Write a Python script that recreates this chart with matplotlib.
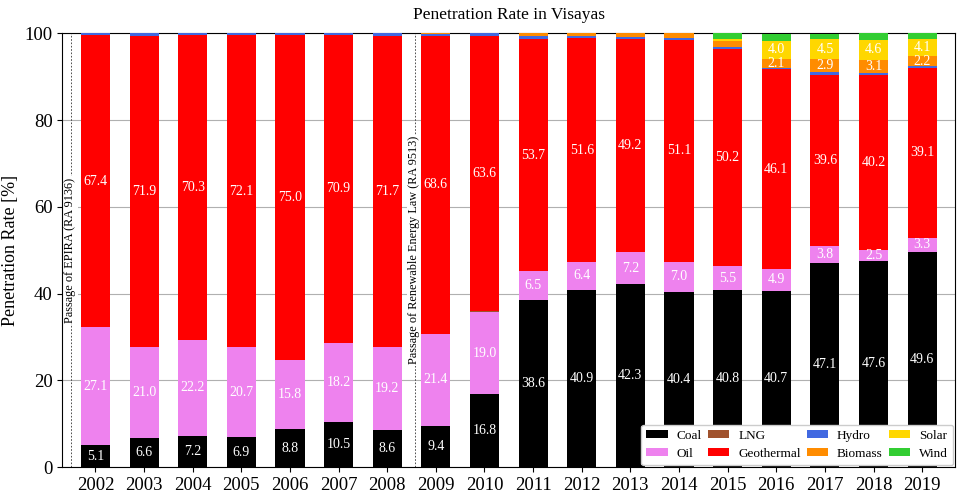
import matplotlib
matplotlib.use("Agg")
import matplotlib.pyplot as plt
import numpy as np

years = list(range(2002, 2020))
coal = [5.1, 6.6, 7.2, 6.9, 8.8, 10.5, 8.6, 9.4, 16.8, 38.6, 40.9, 42.3, 40.4, 40.8, 40.7, 47.1, 47.6, 49.6]
oil = [27.1, 21.0, 22.2, 20.7, 15.8, 18.2, 19.2, 21.4, 19.0, 6.5, 6.4, 7.2, 7.0, 5.5, 4.9, 3.8, 2.5, 3.3]
lng = [0.0, 0.0, 0.0, 0.0, 0.0, 0.0, 0.0, 0.0, 0.1, 0.0, 0.0, 0.0, 0.0, 0.0, 0.0, 0.0, 0.0, 0.0]
geothermal = [67.4, 71.9, 70.3, 72.1, 75.0, 70.9, 71.7, 68.6, 63.6, 53.7, 51.6, 49.2, 51.1, 50.2, 46.1, 39.6, 40.2, 39.1]
hydro = [0.4, 0.5, 0.3, 0.3, 0.4, 0.4, 0.5, 0.5, 0.5, 0.5, 0.4, 0.5, 0.5, 0.3, 0.4, 0.7, 0.5, 0.5]
biomass = [0.0, 0.0, 0.0, 0.0, 0.0, 0.0, 0.0, 0.1, 0.0, 0.7, 0.7, 0.9, 1.0, 1.4, 2.1, 2.9, 3.1, 2.2]
solar = [0.0, 0.0, 0.0, 0.0, 0.0, 0.0, 0.0, 0.0, 0.0, 0.0, 0.0, 0.0, 0.0, 0.4, 4.0, 4.5, 4.6, 4.1]
wind = [0.0, 0.0, 0.0, 0.0, 0.0, 0.0, 0.0, 0.0, 0.0, 0.0, 0.0, 0.0, 0.0, 1.4, 1.7, 1.3, 1.5, 1.2]

series = [("Coal", coal, "black"), ("Oil", oil, "violet"), ("LNG", lng, "sienna"),
          ("Geothermal", geothermal, "red"), ("Hydro", hydro, "royalblue"),
          ("Biomass", biomass, "darkorange"), ("Solar", solar, "gold"), ("Wind", wind, "limegreen")]

events = [(2001.5, "Passage of EPIRA (RA 9136)"), (2008.57, "Passage of Renewable Energy Law (RA 9513)")]

plt.rcParams['font.family'] = ['Liberation Serif', 'DejaVu Serif']

fig = plt.figure(figsize=(9.6, 4.98), dpi=100)
ax = fig.add_axes([0.065, 0.062, 0.93, 0.871])

x = np.array(years, dtype=float)
bottom = np.zeros(len(years))
for name, vals, color in series:
    v = np.array(vals)
    ax.bar(x, v, width=0.6, bottom=bottom, color=color, label=name, zorder=3)
    for xi, b, vi in zip(x, bottom, v):
        if vi >= 2.0:
            ax.text(xi, b + vi / 2, f"{vi:.1f}", ha="center", va="center",
                    color="white", fontsize=10, zorder=4)
    bottom += v

for xe, label in events:
    ax.axvline(xe, color="#333333", linestyle=(0, (2, 2)), linewidth=0.6, zorder=2)
    ax.text(xe - 0.02, 50, label, rotation=90, ha="center", va="center", fontsize=8.8,
            zorder=2.5, bbox=dict(facecolor="white", edgecolor="none", pad=1.0))

ax.set_xlim(2001.32, 2019.68)
ax.set_ylim(0, 100)
ax.set_xticks(years)
ax.set_xticklabels([str(y) for y in years], fontsize=13.5)
ax.set_yticks([0, 20, 40, 60, 80, 100])
ax.tick_params(axis="y", labelsize=13.5)
ax.yaxis.grid(True, color="#b0b0b0", linewidth=0.8, zorder=0)
ax.set_axisbelow(True)
ax.set_ylabel("Penetration Rate [%]", fontsize=13)
ax.set_title("Penetration Rate in Visayas", fontsize=12.5, pad=10)

ax.legend(loc="lower right", ncol=4, fontsize=9.5, framealpha=1.0, handlelength=1.6,
          handleheight=0.6, handletextpad=0.7, columnspacing=0.45, borderaxespad=0.15,
          labelspacing=0.45)

fig.savefig("out.png", dpi=100)
